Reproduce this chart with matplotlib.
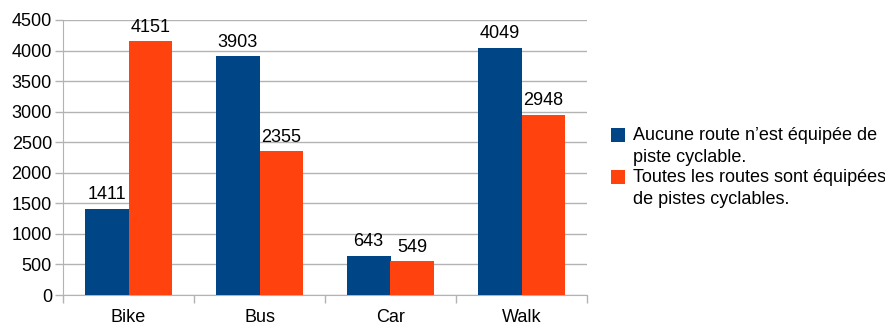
import matplotlib
matplotlib.use("Agg")
import matplotlib.pyplot as plt
from matplotlib.patches import Rectangle
from matplotlib.legend_handler import HandlerPatch
import numpy as np

categories = ["Bike", "Bus", "Car", "Walk"]
series_names = ["Aucune route n’est équipée de\npiste cyclable.",
                "Toutes les routes sont équipées\nde pistes cyclables."]
aucune = [1411, 3903, 643, 4049]
toutes = [4151, 2355, 549, 2948]
yticks = [0, 500, 1000, 1500, 2000, 2500, 3000, 3500, 4000, 4500]

FS = 13.0
plt.rcParams['font.family'] = ['Liberation Sans', 'DejaVu Sans']
fig = plt.figure(figsize=(8.85, 3.27), dpi=100)
ax = fig.add_axes([63/885, 1-295/327, 524/885, 275/327])

x = np.arange(len(categories))
w = 1/3
c1, c2 = "#004586", "#ff420e"
b1 = ax.bar(x - w/2, aucune, w, color=c1, label=series_names[0], zorder=3)
b2 = ax.bar(x + w/2, toutes, w, color=c2, label=series_names[1], zorder=3)
for bars in (b1, b2):
    ax.bar_label(bars, padding=4, fontsize=FS)

ax.set_xlim(-0.5, len(categories) - 0.5)
ax.set_ylim(0, 4500)
ax.set_yticks(yticks)
ax.tick_params(axis='y', labelsize=FS, length=6, color="#b3b3b3", width=1, pad=2)
ax.set_xticks(x)
ax.set_xticklabels(categories, fontsize=FS)
ax.tick_params(axis='x', length=0, pad=10)
ax.set_xticks(np.arange(len(categories) + 1) - 0.5, minor=True)
ax.tick_params(axis='x', which='minor', length=6, color="#b3b3b3", width=1)
ax.grid(axis='y', color="#b3b3b3", linewidth=1, zorder=0)
for s in ['top', 'right']:
    ax.spines[s].set_visible(False)
ax.spines['left'].set_color("#b3b3b3")
ax.spines['bottom'].set_color("#b3b3b3")


def raised_rect(legend, orig_handle, xdescent, ydescent, width, height, fontsize):
    return Rectangle((-xdescent, -ydescent + 8.5), width, height)


h1, h2 = b1.patches[0], b2.patches[0]
handler = HandlerPatch(patch_func=raised_rect)
leg = fig.legend(handles=[h1, h2], labels=series_names, loc='center left',
                 bbox_to_anchor=(611/885, 0.488),
                 frameon=False, fontsize=FS, handlelength=0.78, handleheight=0.78,
                 handletextpad=0.42, labelspacing=0.15, borderaxespad=0, borderpad=0,
                 handler_map={h1: handler, h2: handler})
for t in leg.get_texts():
    t.set_linespacing(1.4)
fig.savefig("out.png", dpi=100)
